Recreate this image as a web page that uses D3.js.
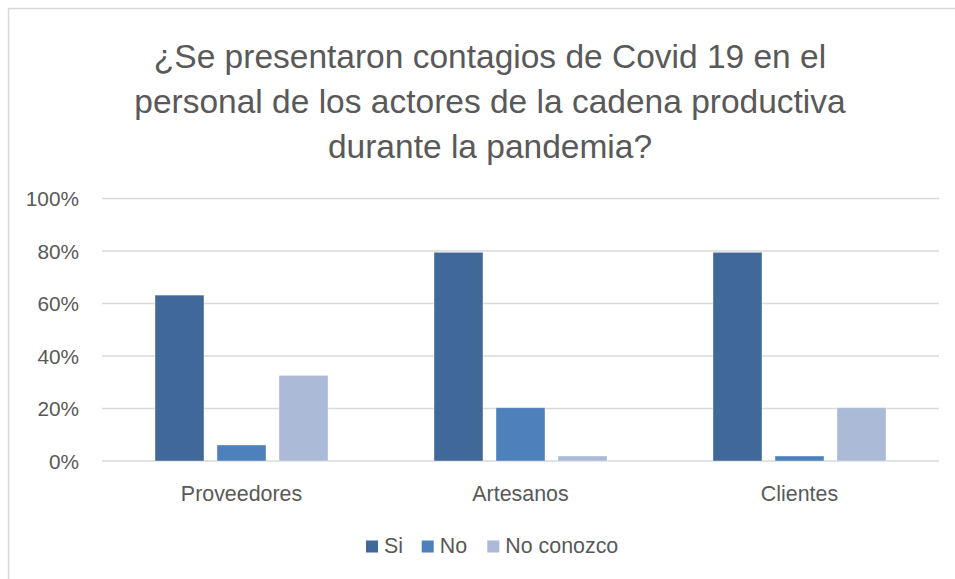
<!DOCTYPE html>
<html>
<head>
<meta charset="utf-8">
<script src="https://cdn.jsdelivr.net/npm/d3@7"></script>
<style>
  body { margin: 0; background: #fff; }
  svg { display: block; font-family: "Liberation Sans", Arial, sans-serif; }
</style>
</head>
<body>
<div id="chart"></div>
<script>
// data
const categories = ["Proveedores", "Artesanos", "Clientes"];
const seriesNames = ["Si", "No", "No conozco"];
const siValues = [0.632, 0.795, 0.795];
const noValues = [0.061, 0.203, 0.019];
const noConozcoValues = [0.326, 0.019, 0.203];
const yTicks = [0, 0.2, 0.4, 0.6, 0.8, 1];
const titleLines = [
    "¿Se presentaron contagios de Covid 19 en el",
    "personal de los actores de la cadena productiva",
    "durante la pandemia?"
];

const colors = ["#406999", "#4E80BC", "#AABAD7"];
const seriesValues = [siValues, noValues, noConozcoValues];

const width = 955, height = 579;
const svg = d3.select("#chart").append("svg")
    .attr("width", width)
    .attr("height", height);

// outer frame (cut off on right and bottom like the screenshot)
svg.append("rect")
    .attr("x", 8.5).attr("y", 8.5)
    .attr("width", 960).attr("height", 600)
    .attr("fill", "#fff")
    .attr("stroke", "#d9d9d9")
    .attr("stroke-width", 1.5);

const plot = { left: 102, right: 939, top: 198.5, bottom: 461 };

const x0 = d3.scaleBand()
    .domain(categories)
    .range([plot.left, plot.right]);

const x1 = d3.scaleBand()
    .domain(seriesNames)
    .range([53, 226])
    .paddingInner(0.21);

const y = d3.scaleLinear()
    .domain([0, 1])
    .range([plot.bottom, plot.top]);

// gridlines
svg.append("g")
    .selectAll("line")
    .data(yTicks)
    .enter()
    .append("line")
    .attr("x1", plot.left)
    .attr("x2", plot.right)
    .attr("y1", d => y(d))
    .attr("y2", d => y(d))
    .attr("stroke", "#d9d9d9")
    .attr("stroke-width", 1.5);

// y axis labels
const yAxis = d3.axisLeft(y)
    .tickValues(yTicks)
    .tickFormat(d3.format(".0%"))
    .tickSize(0)
    .tickPadding(0);

const yg = svg.append("g")
    .attr("transform", `translate(79,0)`)
    .call(yAxis);
yg.select(".domain").remove();
yg.selectAll("text")
    .attr("fill", "#595959")
    .attr("font-size", 20.8)
    .attr("dy", "0.35em");

// bars
const rows = categories.map((c, i) => ({
    cat: c,
    vals: seriesNames.map((s, j) => ({ key: s, value: seriesValues[j][i], color: colors[j] }))
}));

const group = svg.append("g")
    .selectAll("g")
    .data(rows)
    .enter()
    .append("g")
    .attr("transform", d => `translate(${x0(d.cat)},0)`);

group.selectAll("rect")
    .data(d => d.vals)
    .enter()
    .append("rect")
    .attr("x", d => x1(d.key))
    .attr("y", d => y(d.value))
    .attr("width", x1.bandwidth())
    .attr("height", d => y(0) - y(d.value))
    .attr("fill", d => d.color)
    .attr("stroke", "#ffffff")
    .attr("stroke-opacity", 0.5)
    .attr("stroke-width", 0.75);

// x axis labels
const xAxis = d3.axisBottom(x0).tickSize(0).tickPadding(0);
const xg = svg.append("g")
    .attr("transform", `translate(0,501)`)
    .call(xAxis);
xg.select(".domain").remove();
xg.selectAll("text")
    .attr("fill", "#595959")
    .attr("font-size", 21.4)
    .attr("dy", 0);

// title
svg.append("g")
    .selectAll("text")
    .data(titleLines)
    .enter()
    .append("text")
    .attr("x", 490)
    .attr("y", (d, i) => 68 + i * 45)
    .attr("text-anchor", "middle")
    .attr("fill", "#595959")
    .attr("font-size", 33.5)
    .text(d => d);

// legend
const legendX = [366, 421.7, 487.3];
const legend = svg.append("g")
    .selectAll("g")
    .data(seriesNames)
    .enter()
    .append("g")
    .attr("transform", (d, i) => `translate(${legendX[i]},540.5)`);

legend.append("rect")
    .attr("width", 12)
    .attr("height", 12)
    .attr("fill", (d, i) => colors[i]);

legend.append("text")
    .attr("x", 18)
    .attr("y", 12)
    .attr("fill", "#595959")
    .attr("font-size", 21.4)
    .text(d => d);
</script>
</body>
</html>
